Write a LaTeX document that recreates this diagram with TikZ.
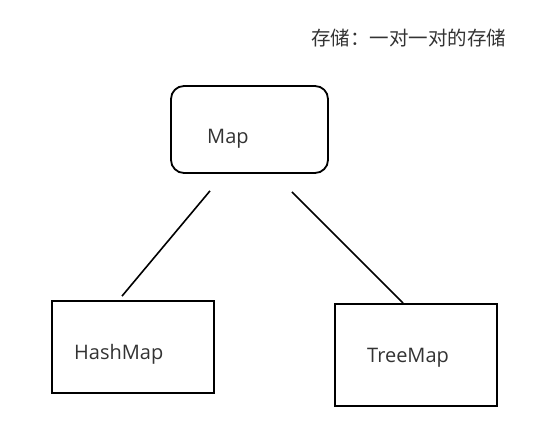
\documentclass[tikz,border=0pt]{standalone}
\usepackage{fontspec}
\setmainfont{Open Sans}
\newfontfamily\cjkfont{Noto Sans CJK SC}
\usepackage{xcolor}
\definecolor{txtgray}{HTML}{333333}
\usetikzlibrary{positioning}

\begin{document}
\begin{tikzpicture}[x=1pt, y=1pt,
  mapbox/.style={draw=black, line width=1.8pt, rounded corners=13pt},
  implbox/.style={draw=black, line width=1.8pt},
  lbl/.style={anchor=base west, inner sep=0pt, font=\fontsize{20}{24}\selectfont\color{txtgray}},
  link/.style={draw=black, line width=1.6pt}
]
  \useasboundingbox (0,0) rectangle (544,438);

  \node[lbl, font=\cjkfont\fontsize{19.5}{23}\selectfont\color{txtgray}] (title) at (311,392.5)
    {存储：一对一对的存储};

  \node[mapbox, minimum width=157, minimum height=87] (map) at (249.5,308.5) {};
  \node[implbox, minimum width=162, minimum height=92] (hash) at (133,91) {};
  \node[implbox, minimum width=162, minimum height=102] (tree) at (416,83) {};

  \node[lbl] (maptxt) at (207,294) {Map};
  \node[lbl] (hashtxt) at (74,78) {HashMap};
  \node[lbl] (treetxt) at (367,75) {TreeMap};

  \draw[link] ([xshift=-39.5pt, yshift=-17pt]map.south) -- ([xshift=-11pt, yshift=4pt]hash.north);
  \draw[link] ([xshift=42.5pt, yshift=-18pt]map.south) -- ([xshift=-13pt]tree.north);

\end{tikzpicture}
\end{document}
